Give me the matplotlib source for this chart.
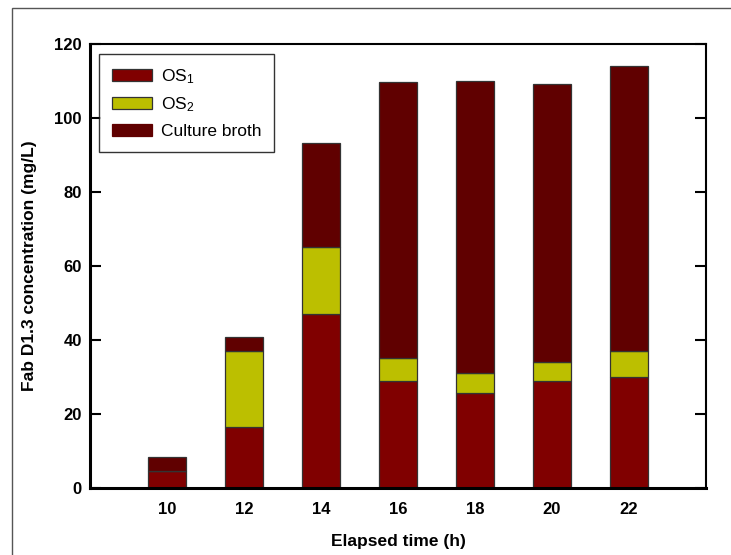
import matplotlib
matplotlib.use("Agg")
import matplotlib.pyplot as plt
from matplotlib.patches import Rectangle, Patch
import numpy as np

plt.rcParams['font.family'] = ['Liberation Sans', 'DejaVu Sans']
plt.rcParams['mathtext.fontset'] = 'custom'
plt.rcParams['mathtext.rm'] = 'Liberation Sans'
plt.rcParams['mathtext.it'] = 'Liberation Sans'
plt.rcParams['mathtext.bf'] = 'Liberation Sans:bold'

times = [10, 12, 14, 16, 18, 20, 22]
os1 = [4.6, 16.5, 47.0, 28.9, 25.7, 28.9, 30.0]
os2_top = [4.6, 37.0, 65.1, 35.1, 31.1, 34.0, 37.0]
total = [8.3, 40.9, 93.3, 109.8, 110.0, 109.2, 114.0]
os2 = [b - a for a, b in zip(os1, os2_top)]
broth = [c - b for b, c in zip(os2_top, total)]

c_os1 = '#800000'
c_os2 = '#bcbf00'
c_broth = '#600000'
edge = '#333333'

fig = plt.figure(figsize=(7.31, 5.55), dpi=100)
ax = fig.add_axes([90/731, 1-488/555, 616/731, 444/555])

ax.bar(times, os1, width=1.0, color=c_os1, edgecolor=edge, linewidth=0.9)
ax.bar(times, os2, width=1.0, bottom=os1, color=c_os2, edgecolor=edge, linewidth=0.9)
ax.bar(times, broth, width=1.0, bottom=os2_top, color=c_broth, edgecolor=edge, linewidth=0.9)

ax.set_xlim(8, 24)
ax.set_ylim(0, 120)
ax.set_xticks(times)
ax.set_yticks(np.arange(0, 121, 20))
ax.tick_params(axis='x', length=0, pad=10, labelsize=12)
ax.tick_params(axis='y', direction='in', length=8, width=1.5, right=True, pad=6, labelsize=12)
for lab in ax.get_xticklabels() + ax.get_yticklabels():
    lab.set_fontweight('bold')
for sp in ['left', 'bottom']:
    ax.spines[sp].set_linewidth(2.2)
for sp in ['top', 'right']:
    ax.spines[sp].set_linewidth(1.5)

ax.set_xlabel('Elapsed time (h)', fontsize=12.5, fontweight='bold', labelpad=12)
ax.set_ylabel('Fab D1.3 concentration (mg/L)', fontsize=12.5, fontweight='bold', labelpad=12)

handles = [Patch(facecolor=c_os1, edgecolor=edge, linewidth=0.9),
           Patch(facecolor=c_os2, edgecolor=edge, linewidth=0.9),
           Patch(facecolor=c_broth, edgecolor=c_broth, linewidth=0.9)]
leg = ax.legend(handles, ['OS$_\\mathregular{1}$', 'OS$_\\mathregular{2}$', 'Culture broth'],
                loc='upper left', bbox_to_anchor=(9/616, 1-10/444), fontsize=12.5,
                frameon=True, fancybox=False, edgecolor='black', handlelength=2.3,
                handleheight=0.7, handletextpad=0.5, labelspacing=0.55,
                borderpad=0.75, borderaxespad=0)
leg.get_frame().set_linewidth(1.0)

# figure frame
fig.add_artist(Rectangle((12/731, -0.1), 1.2, 1 - 8/555 + 0.1, transform=fig.transFigure,
                         fill=False, edgecolor='#555555', linewidth=1.0))

fig.savefig('out.png', dpi=100)
